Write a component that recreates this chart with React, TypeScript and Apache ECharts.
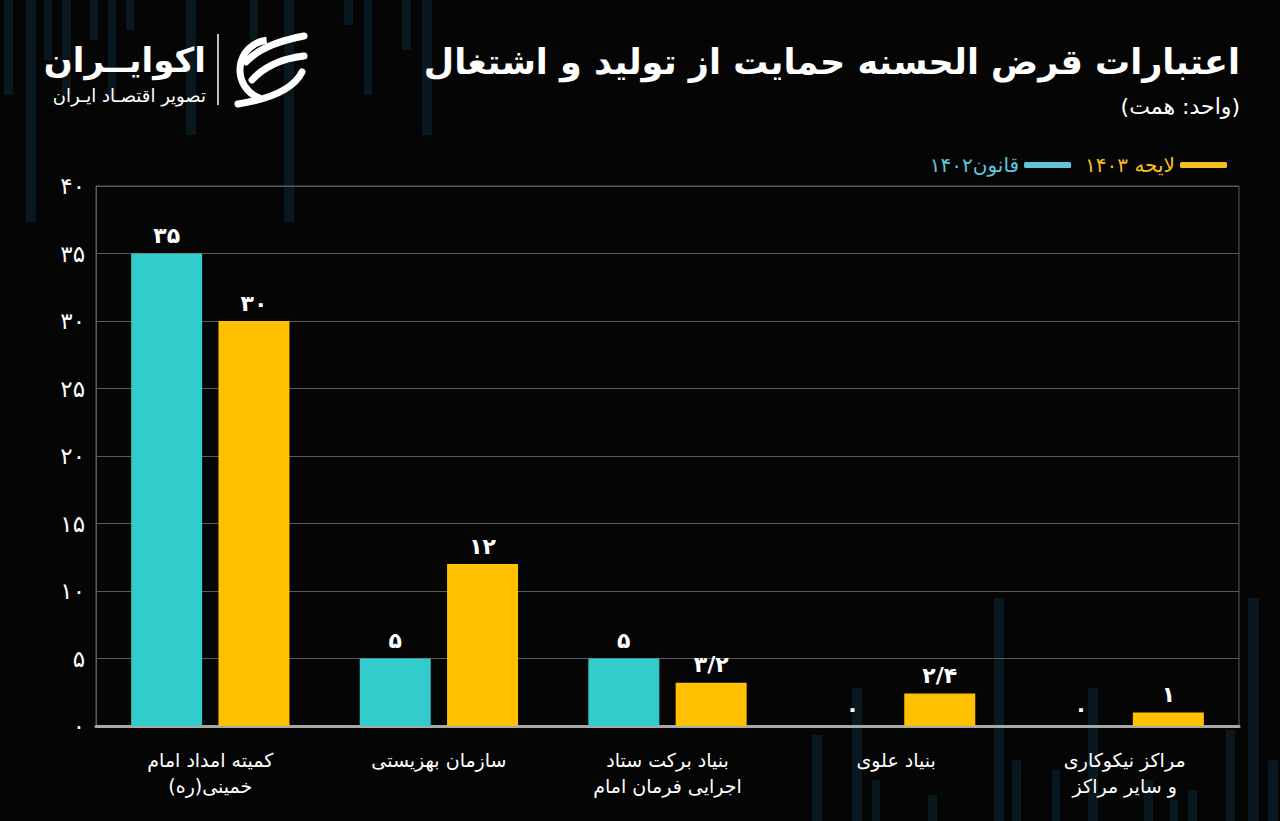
import React, { useEffect, useRef } from "react";
import * as echarts from "echarts";

const RLM = "\u200F";
const categories = [
  "کمیته امداد امام\nخمینی(ره)" + RLM,
  "سازمان بهزیستی",
  "بنیاد برکت ستاد\nاجرایی فرمان امام",
  "بنیاد علوی",
  "مراکز نیکوکاری\nو سایر مراکز",
];
const law1402 = [35, 5, 5, 0, 0];
const bill1403 = [30, 12, 3.2, 2.4, 1];
const seriesNames = ["قانون۱۴۰۲", "لایحه ۱۴۰۳"];
const yMin = 0;
const yMax = 40;
const yStep = 5;

const FA = "۰۱۲۳۴۵۶۷۸۹";
const toFa = (v: number | string) =>
  String(v).replace(/\d/g, (d) => FA[Number(d)]).replace(".", "/");

const FONT = "'DejaVu Sans', 'Noto Sans', sans-serif";
const CYAN = "#33CCCC";
const YELLOW = "#FFC000";

// decorative faded background stripes [x, yTop, yBottom, width]
const decor: number[][] = [
  [4, 0, 95, 9], [26, 0, 222, 10], [44, 0, 60, 8], [62, 0, 95, 9], [90, 0, 40, 8],
  [108, 0, 100, 8], [126, 0, 30, 8], [186, 0, 135, 10], [250, 0, 40, 8],
  [284, 0, 222, 10], [344, 0, 25, 9], [364, 0, 95, 8], [402, 0, 50, 9], [422, 0, 135, 10],
  [812, 735, 821, 10], [852, 688, 821, 10], [872, 780, 821, 8], [928, 795, 821, 9],
  [994, 598, 821, 10], [1012, 760, 821, 9], [1052, 770, 821, 8], [1088, 688, 821, 10],
  [1144, 780, 821, 9], [1170, 800, 821, 8], [1188, 790, 821, 9], [1226, 730, 821, 9],
  [1248, 598, 821, 11], [1268, 760, 821, 10],
];

export default function App() {
  const ref = useRef<HTMLDivElement>(null);
  useEffect(() => {
    document.body.style.margin = "0";
    document.body.style.background = "#050505";
    const chart = echarts.init(ref.current!, undefined, { renderer: "svg" });
    const graphic: any[] = decor.map((d) => ({
      type: "rect",
      z: -10,
      silent: true,
      shape: { x: d[0], y: d[1], width: d[3], height: d[2] - d[1] },
      style: { fill: "#09171e" },
    }));
    graphic.push(
      {
        type: "text",
        style: {
          text: "اعتبارات قرض الحسنه حمایت از تولید و اشتغال",
          x: 1240,
          y: 62,
          align: "right",
          verticalAlign: "middle",
          fill: "#ffffff",
          font: `bold 35px ${FONT}`,
        },
      },
      {
        type: "text",
        style: {
          text: RLM + "(واحد: همت)" + RLM,
          x: 1240,
          y: 106,
          align: "right",
          verticalAlign: "middle",
          fill: "#ffffff",
          font: `22px ${FONT}`,
        },
      },
      {
        type: "text",
        style: {
          text: "اکوایــران",
          x: 206,
          y: 60,
          align: "right",
          verticalAlign: "middle",
          fill: "#ffffff",
          font: `bold 34px ${FONT}`,
        },
      },
      {
        type: "text",
        style: {
          text: "تصویر اقتصـاد ایـران",
          x: 206,
          y: 95,
          align: "right",
          verticalAlign: "middle",
          fill: "#ffffff",
          font: `18px ${FONT}`,
        },
      },
      {
        type: "line",
        shape: { x1: 218, y1: 34, x2: 218, y2: 105 },
        style: { stroke: "#ffffff", lineWidth: 1.5 },
      },
      {
        type: "arc",
        shape: { cx: 270, cy: 70, r: 30, startAngle: 1.9, endAngle: 4.6, clockwise: true },
        style: { stroke: "#ffffff", lineWidth: 7, fill: "none" },
      },
      {
        type: "bezierCurve",
        shape: { x1: 246, y1: 62, cpx1: 262, cpy1: 44, x2: 304, y2: 36 },
        style: { stroke: "#ffffff", lineWidth: 7, fill: "none", lineCap: "round" },
      },
      {
        type: "bezierCurve",
        shape: { x1: 252, y1: 80, cpx1: 270, cpy1: 60, x2: 304, y2: 56 },
        style: { stroke: "#ffffff", lineWidth: 7, fill: "none", lineCap: "round" },
      },
      {
        type: "bezierCurve",
        shape: { x1: 238, y1: 104, cpx1: 290, cpy1: 96, x2: 302, y2: 72 },
        style: { stroke: "#ffffff", lineWidth: 7, fill: "none", lineCap: "round" },
      }
    );

    chart.setOption({
      animation: false,
      backgroundColor: "#050505",
      textStyle: { fontFamily: FONT },
      graphic,
      legend: {
        right: 48,
        top: 150,
        align: "right",
        icon: "roundRect",
        itemWidth: 47,
        itemHeight: 6,
        itemGap: 14,
        textStyle: { fontSize: 20, fontFamily: FONT },
        data: [
          { name: seriesNames[0], itemStyle: { color: "#5ec5dc" }, textStyle: { color: "#5ec5dc" } },
          { name: seriesNames[1], itemStyle: { color: "#f5bf22" }, textStyle: { color: "#f5bf22" } },
        ],
      },
      grid: {
        left: 96,
        right: 41,
        top: 186,
        bottom: 95,
        show: true,
        borderColor: "#5a5a5a",
        borderWidth: 1,
      },
      xAxis: {
        type: "category",
        data: categories,
        axisLine: { lineStyle: { color: "#a8a8a8", width: 3 } },
        axisTick: { show: false },
        axisLabel: {
          color: "#ffffff",
          fontSize: 19,
          lineHeight: 26,
          margin: 21,
          fontFamily: FONT,
        },
      },
      yAxis: {
        type: "value",
        min: yMin,
        max: yMax,
        interval: yStep,
        axisLine: { show: true, lineStyle: { color: "#5a5a5a", width: 1 } },
        axisTick: { show: false },
        splitLine: { lineStyle: { color: "#5a5a5a", width: 1 } },
        axisLabel: {
          color: "#ffffff",
          fontSize: 23,
          margin: 11,
          fontFamily: FONT,
          formatter: (v: number) => toFa(v),
        },
      },
      series: [
        {
          name: seriesNames[0],
          type: "bar",
          data: law1402,
          barWidth: 71,
          barGap: "23%",
          itemStyle: { color: CYAN },
          label: {
            show: true,
            position: "top",
            distance: 7,
            color: "#ffffff",
            fontSize: 22,
            fontWeight: "bold",
            fontFamily: FONT,
            formatter: (p: any) => toFa(p.value),
          },
        },
        {
          name: seriesNames[1],
          type: "bar",
          data: bill1403,
          barWidth: 71,
          barGap: "23%",
          itemStyle: { color: YELLOW },
          label: {
            show: true,
            position: "top",
            distance: 7,
            color: "#ffffff",
            fontSize: 22,
            fontWeight: "bold",
            fontFamily: FONT,
            formatter: (p: any) => toFa(p.value),
          },
        },
      ],
    });
    return () => chart.dispose();
  }, []);
  return (
    <div
      ref={ref}
      style={{ position: "fixed", left: 0, top: 0, width: 1280, height: 821 }}
    />
  );
}
